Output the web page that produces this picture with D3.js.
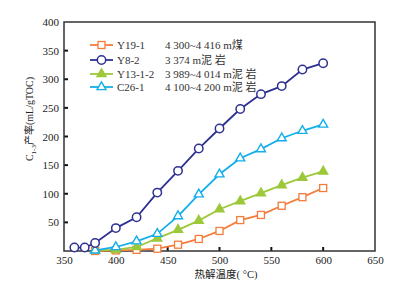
<!DOCTYPE html>
<html><head><meta charset="utf-8">
<script src="https://cdn.jsdelivr.net/npm/d3@7"></script>
<style>body{margin:0;background:#fff}svg{display:block}</style>
</head><body>
<svg id="c" width="402" height="286"></svg>
<script>
const y19Temps = [380,400,420,440,460,480,500,520,540,560,580,600];
const y19 = [0,1,2,4,11,21,35,54,63,79,94,110];
const y8Temps = [360,370,380,400,420,440,460,480,500,520,540,560,580,600];
const y8 = [6,6,14,40,59,102,140,179,214,248,274,288,317,328];
const y13Temps = [380,400,420,440,460,480,500,520,540,560,580,600];
const y13 = [1,2,7,22,37,53,73,87,101,115,128,139];
const c26Temps = [380,400,420,440,460,480,500,520,540,560,580,600];
const c26 = [1,7,17,30,61,99,134,162,178,197,210,221];
const xTicks = [350,400,450,500,550,600,650];
const yTicks = [50,100,150,200,250,300,350,400];
const seriesNames = ["Y19-1","Y8-2","Y13-1-2","C26-1"];
const seriesDesc = ["4 300~4 416 m煤","3 374 m泥 岩","3 989~4 014 m泥 岩","4 100~4 200 m泥 岩"];

const series = [
  {name:seriesNames[0], desc:seriesDesc[0], t:y19Temps, v:y19, color:"#f47c3c", marker:"square"},
  {name:seriesNames[1], desc:seriesDesc[1], t:y8Temps, v:y8, color:"#2e3191", marker:"circle"},
  {name:seriesNames[2], desc:seriesDesc[2], t:y13Temps, v:y13, color:"#9cc83a", marker:"tri"},
  {name:seriesNames[3], desc:seriesDesc[3], t:c26Temps, v:c26, color:"#14aeea", marker:"otri"}
];

const L=64, R=375, T=22, B=251;
const svg = d3.select("#c");
const x = d3.scaleLinear().domain([350,650]).range([L,R]);
const y = d3.scaleLinear().domain([0,400]).range([B,T]);
const serif = "'Liberation Serif','DejaVu Serif',serif";
const cjk = "'Liberation Serif','Noto Sans CJK SC',serif";

// axes
const xa = svg.append("g").attr("transform",`translate(0,${B})`)
  .call(d3.axisBottom(x).tickValues(xTicks).tickSize(0).tickPadding(5));
xa.select(".domain").remove();
xa.selectAll("text").attr("font-family",serif).attr("font-size",11).attr("fill","#222");
const ya = svg.append("g").attr("transform",`translate(${L},0)`)
  .call(d3.axisLeft(y).tickValues(yTicks).tickSize(0).tickPadding(5));
ya.select(".domain").remove();
ya.selectAll("text").attr("font-family",serif).attr("font-size",11).attr("fill","#222");

// inward ticks
svg.append("g").selectAll("line").data(xTicks.slice(1,-1)).join("line")
  .attr("x1",d=>x(d)).attr("x2",d=>x(d)).attr("y1",B).attr("y2",B-4)
  .attr("stroke","#111").attr("stroke-width",2);
svg.append("g").selectAll("line").data(yTicks.slice(0,-1)).join("line")
  .attr("x1",L).attr("x2",L+4).attr("y1",d=>y(d)).attr("y2",d=>y(d))
  .attr("stroke","#111").attr("stroke-width",2);

// frame
svg.append("rect").attr("x",L).attr("y",T).attr("width",R-L).attr("height",B-T)
  .attr("fill","none").attr("stroke","#333").attr("stroke-width",1.5);

function drawMarker(g, m, cx, cy, color){
  if(m==="circle"){
    g.append("circle").attr("cx",cx).attr("cy",cy).attr("r",4.2)
      .attr("fill","#fff").attr("stroke",color).attr("stroke-width",1.5);
  } else if(m==="square"){
    g.append("rect").attr("x",cx-3.5).attr("y",cy-3.5).attr("width",7).attr("height",7)
      .attr("fill","#fff").attr("stroke",color).attr("stroke-width",1.3);
  } else {
    const s=9, h=s*0.866;
    const pts=[[cx,cy-h*2/3],[cx-s/2,cy+h/3],[cx+s/2,cy+h/3]];
    g.append("path").attr("d","M"+pts.map(p=>p.join(",")).join("L")+"Z")
      .attr("fill", m==="tri"?color:"#fff").attr("stroke",color).attr("stroke-width",1.4);
  }
}

const line = d3.line().x(d=>x(d[0])).y(d=>y(d[1]));
const order = [0,2,3,1];
order.forEach(i=>{
  const s=series[i];
  const pts = s.t.map((t,j)=>[t,s.v[j]]);
  const g = svg.append("g");
  g.append("path").attr("d",line(pts)).attr("fill","none")
    .attr("stroke",s.color).attr("stroke-width",1.8);
  pts.forEach(p=>drawMarker(g,s.marker,x(p[0]),y(p[1]),s.color));
});

// legend
const ly=[45,60,74,87];
series.forEach((s,i)=>{
  const g=svg.append("g");
  g.append("line").attr("x1",90).attr("x2",113).attr("y1",ly[i]).attr("y2",ly[i])
    .attr("stroke",s.color).attr("stroke-width",1.8);
  drawMarker(g,s.marker,101.5,ly[i],s.color);
  g.append("text").attr("x",117).attr("y",ly[i]+3.8).text(s.name)
    .attr("font-family",serif).attr("font-size",11).attr("fill","#333");
  g.append("text").attr("x",165).attr("y",ly[i]+3.8).text(s.desc)
    .attr("font-family",cjk).attr("font-size",11).attr("fill","#333");
});

// axis titles
svg.append("text").attr("x",226).attr("y",278).attr("text-anchor","middle")
  .attr("font-family",cjk).attr("font-size",10.5).attr("fill","#222").text("热解温度( °C)");
const yt = svg.append("text").attr("transform","translate(33,119) rotate(-90)")
  .attr("text-anchor","middle").attr("font-family",cjk).attr("font-size",10).attr("fill","#222");
yt.append("tspan").text("C");
yt.append("tspan").attr("font-size",7).attr("dy",3).text("1-3");
yt.append("tspan").attr("dy",-3).text("产率(mL/gTOC)");
</script>
</body></html>
